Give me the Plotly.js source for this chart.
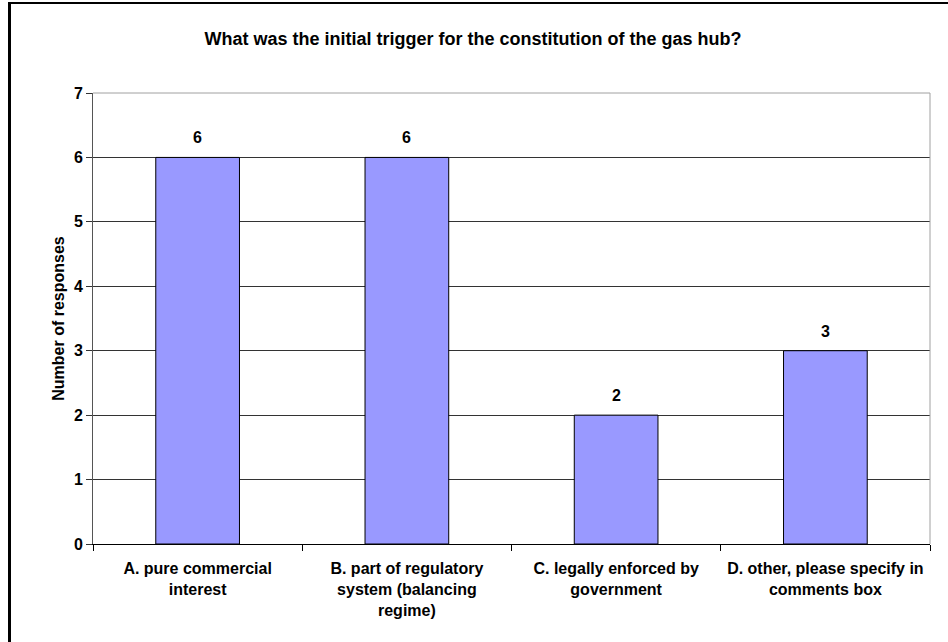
<!DOCTYPE html>
<html>
<head>
<meta charset="utf-8">
<script src="https://cdn.plot.ly/plotly-3.0.1.min.js"></script>
<style>
  html, body { margin: 0; padding: 0; background: #fff; }
  #chart { width: 948px; height: 642px; }
</style>
</head>
<body>
<div id="chart"></div>
<script>
const categories = [
  "A. pure commercial<br>interest",
  "B. part of regulatory<br>system (balancing<br>regime)",
  "C. legally enforced by<br>government",
  "D. other, please specify in<br>comments box"
];
const responses = [6, 6, 2, 3];
const yTicks = [0, 1, 2, 3, 4, 5, 6, 7];
const chartTitle = "What was the initial trigger for the constitution of the gas hub?";
const yTitle = "Number of responses";

const W = 948, H = 642;
const M = { l: 93, r: 18, t: 93, b: 98 };
const pw = W - M.l - M.r, ph = H - M.t - M.b;
const px = x => (x - M.l) / pw;
const py = y => (H - M.b - y) / ph;

const FONT = "Liberation Sans, Arial, Helvetica, sans-serif";

const trace = {
  type: "bar",
  x: categories,
  y: responses,
  width: 0.4,
  marker: { color: "#9999FF", line: { color: "#000000", width: 1 } },
  hoverinfo: "none"
};

const labels = categories.map((c, i) => ({
  x: c, y: responses[i], xref: "x", yref: "y",
  text: "<b>" + responses[i] + "</b>",
  showarrow: false, yanchor: "bottom", yshift: 9,
  font: { family: FONT, size: 16, color: "#000" }
}));

const layout = {
  width: W, height: H,
  margin: M,
  paper_bgcolor: "#ffffff",
  plot_bgcolor: "#ffffff",
  showlegend: false,
  font: { family: FONT, color: "#000" },
  title: {
    text: "<b>" + chartTitle + "</b>",
    font: { family: FONT, size: 18, color: "#000" },
    x: 0.499, xanchor: "center",
    y: 1 - 39 / H, yanchor: "middle", yref: "container"
  },
  xaxis: {
    type: "category",
    tickson: "boundaries",
    ticks: "outside", ticklen: 6, tickcolor: "#000", tickwidth: 1,
    showline: true, linecolor: "#000", linewidth: 1,
    showgrid: false,
    tickfont: { family: FONT, size: 16, color: "#000" },
    tickprefix: "<b>", ticksuffix: "</b>",
    ticklabelstandoff: 10,
    fixedrange: true
  },
  yaxis: {
    range: [0, 7],
    tickvals: yTicks,
    ticktext: yTicks.map(v => "<b>" + v + "</b>"),
    ticks: "outside", ticklen: 6, tickcolor: "#333", tickwidth: 1,
    showline: true, linecolor: "#555", linewidth: 1,
    showgrid: true, gridcolor: "#333", gridwidth: 1,
    zeroline: false,
    tickfont: { family: FONT, size: 16, color: "#000" },
    title: {
      text: "<b>" + yTitle + "</b>",
      font: { family: FONT, size: 16, color: "#000" },
      standoff: 5
    },
    fixedrange: true
  },
  annotations: labels,
  shapes: [
    { type: "line", xref: "paper", yref: "paper", x0: 0, x1: 1, y0: 1, y1: 1,
      line: { color: "#a0a0a0", width: 1 } },
    { type: "line", xref: "paper", yref: "paper", x0: 1, x1: 1, y0: 0, y1: 1,
      line: { color: "#a0a0a0", width: 1 } },
    { type: "line", xref: "paper", yref: "paper", x0: px(9.5), x1: px(9.5), y0: py(2), y1: py(H + 2),
      line: { color: "#000", width: 3 } },
    { type: "line", xref: "paper", yref: "paper", x0: px(8), x1: px(W + 2), y0: py(3), y1: py(3),
      line: { color: "#000", width: 2 } }
  ]
};

Plotly.newPlot("chart", [trace], layout, { staticPlot: true, displayModeBar: false });
</script>
</body>
</html>
